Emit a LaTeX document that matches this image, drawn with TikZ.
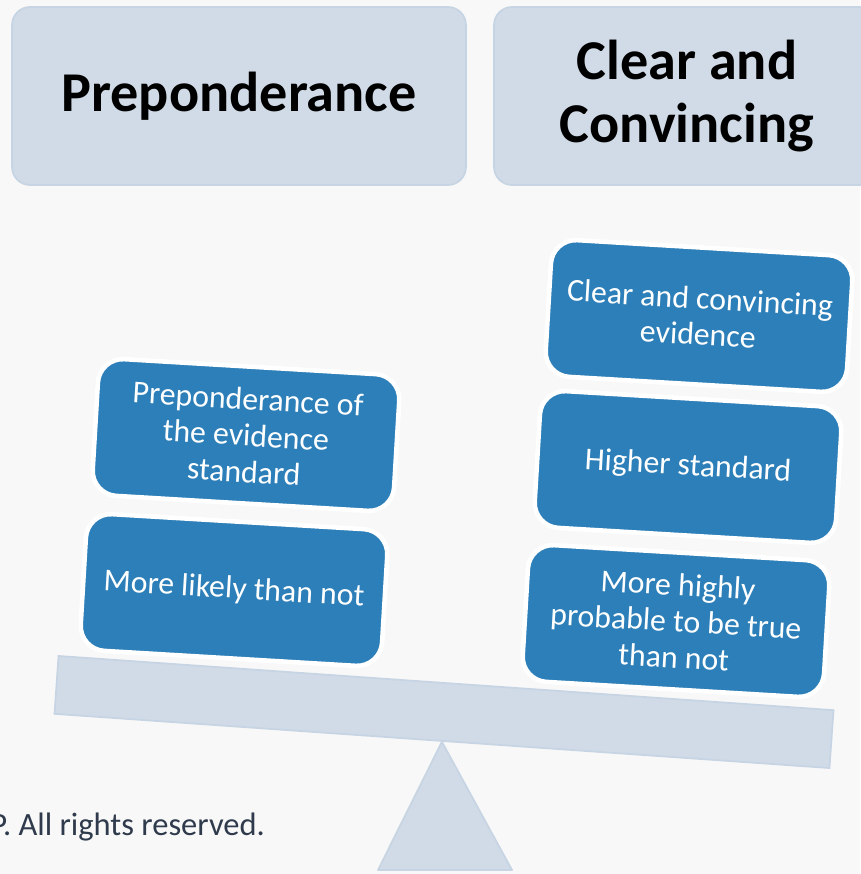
\documentclass[tikz,border=0pt]{standalone}
\usepackage{fontspec}
\setmainfont{Carlito}
\usetikzlibrary{calc}

\definecolor{pagebg}{HTML}{F8F8F8}
\definecolor{slatebox}{HTML}{D0DBE7}
\definecolor{slateedge}{HTML}{C7D4E3}
\definecolor{stdblue}{HTML}{2C7FB8}
\definecolor{notegray}{HTML}{2F3B4C}

\tikzset{
	header/.style={draw=slateedge, line width=1pt, fill=slatebox, rounded corners=0.36cm,
		minimum height=3.56cm, inner sep=0pt, align=center,
		font=\fontsize{32}{35.5}\selectfont\bfseries},
	weight/.style={draw=white, line width=2.6pt, fill=stdblue, rounded corners=0.5cm,
		minimum width=6.04cm, minimum height=2.74cm, inner sep=0pt, rotate=-3.4,
		text=white, align=center, font=\fontsize{18.1}{20.7}\selectfont},
	beambar/.style={draw=slateedge, line width=1pt, fill=slatebox, rotate=-4,
		minimum width=15.54cm, minimum height=1.16cm, inner sep=0pt},
	fulcrum/.style={draw=slateedge, line width=1pt, fill=slatebox, line join=round}
}

\begin{document}
\begin{tikzpicture}[x=0.02cm, y=-0.02cm]
		%%%%% START %%%%%
		
		\useasboundingbox[fill=pagebg] (0, 0) rectangle (860, 874);
		
		\node[header, minimum width=9.08cm] (hdrpre) at (239, 96) {Preponderance};
		\node[header, minimum width=7.72cm] (hdrclear) at (687, 96) {Clear and\\Convincing};
		
		\node[beambar] (beam) at (444, 712) {};
		\draw[fulcrum] (beam.south) -- (378, 870) -- (512, 870) -- cycle;
		
		\node[weight] (pre1) at (246, 435) {Preponderance of\\the evidence\\standard};
		\node[weight] (pre2) at (234, 590) {More likely than not};
		
		\node[weight] (cc1) at (699, 316) {Clear and convincing\\evidence};
		\node[weight] (cc2) at (688, 467) {Higher standard};
		\node[weight] (cc3) at (676, 621) {More highly\\probable to be true\\than not};
		
		\node[anchor=base west, inner sep=0pt, text=notegray, font=\fontsize{18.5}{20}\selectfont]
			(rights) at (-10, 835) {P. All rights reserved.};
		
		%%%%% END %%%%%
\end{tikzpicture}
\end{document}
